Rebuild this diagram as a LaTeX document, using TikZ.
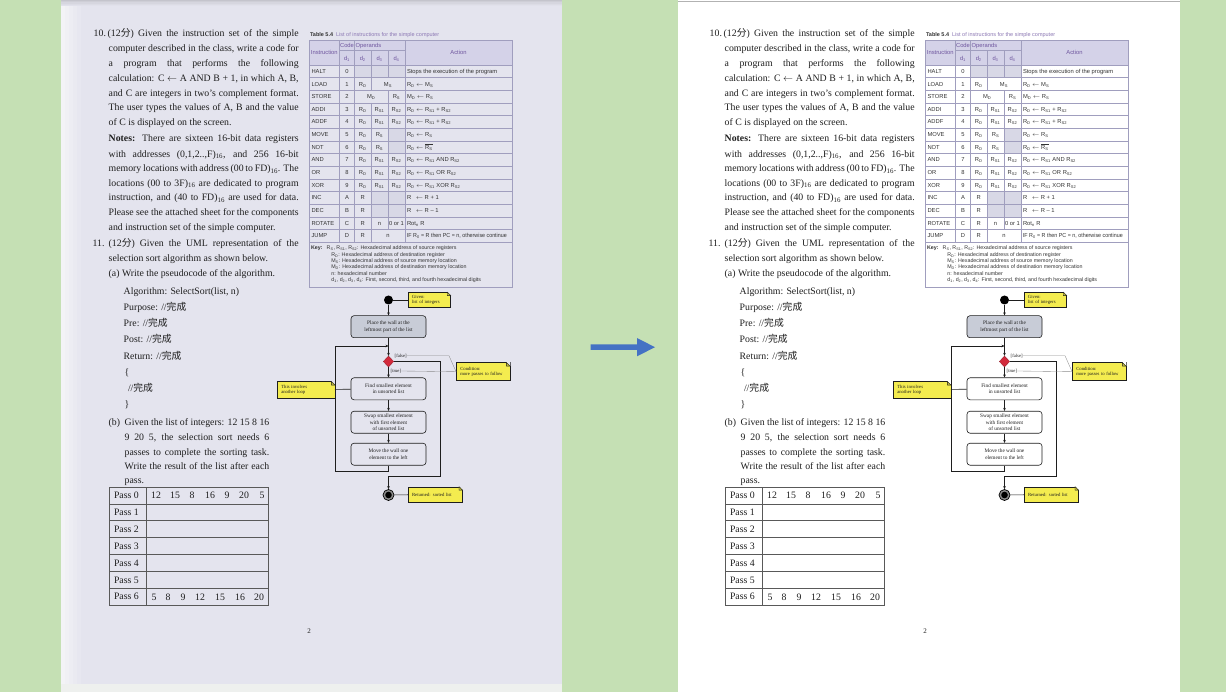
\documentclass[tikz,border=0pt]{standalone}
\usepackage{graphicx}
\usepackage{fontspec}
\setmainfont{Liberation Serif}
\setsansfont{Liberation Sans}
\newfontfamily\cjk{Noto Sans CJK SC}
\usetikzlibrary{arrows.meta,shapes.geometric,calc}
\definecolor{bggreen}{HTML}{C5E0B4}
\definecolor{arrowblue}{HTML}{4472C4}
\definecolor{scanpage}{HTML}{E4E4EE}
\definecolor{scanedge}{HTML}{F3F3F6}
\definecolor{scantop}{HTML}{C4C4CC}
\definecolor{scanbottom}{HTML}{EEF0EE}
\definecolor{tabline}{HTML}{A09EBE}
\definecolor{tabhead}{HTML}{D4D2E8}
\definecolor{tabshade}{HTML}{D8D8E6}
\definecolor{headtxt}{HTML}{6E559E}
\definecolor{captxt}{HTML}{8C78B4}
\definecolor{noteyel}{HTML}{F4EC4F}
\definecolor{boxonefill}{HTML}{C8CCD7}
\definecolor{dmdred}{HTML}{D32A3C}
\definecolor{inkc}{HTML}{1E1E1E}
\definecolor{tabtxt}{HTML}{333333}
\colorlet{pagebg}{white}

\newcommand\bodysize{\fontsize{9.8pt}{15pt}\selectfont}
\newcommand\tabsize{\sffamily\fontsize{5.8pt}{7pt}\selectfont}
\newcommand\capsize{\sffamily\fontsize{5.5pt}{7pt}\selectfont}
\newcommand\keysize{\sffamily\fontsize{5.3pt}{6.5pt}\selectfont}
\newcommand\boxsize{\fontsize{5.3pt}{6.2pt}\selectfont}
\newcommand\notesize{\fontsize{4.7pt}{5.6pt}\selectfont}
\newcommand\sbs[1]{\textsubscript{#1}}
\newcommand\wc{{\cjk 完成}}

\newcounter{ln}
\newcommand\jl[4]{\stepcounter{ln}\node[txt] (ln\arabic{ln}) at (#1,#2) {\makebox[#3pt][s]{#4}};}
\newcommand\pl[3]{\stepcounter{ln}\node[txt] (ln\arabic{ln}) at (#1,#2) {#3};}
\newcommand\tbl[3]{\stepcounter{ln}\node[tt] (ln\arabic{ln}) at (#1,#2) {#3};}
\newcommand\tbc[3]{\stepcounter{ln}\node[tt,anchor=base] (ln\arabic{ln}) at (#1,#2) {#3};}
\newcommand\kyl[3]{\stepcounter{ln}\node[tt,font=\keysize] (ln\arabic{ln}) at (#1,#2) {#3};}
\newcommand\trow[7]{\pgfmathsetmacro\ry{73.4+12.65*#1}%
  \tbl{927.5}{\ry}{#2}\tbc{963}{\ry}{#3}\tbc{978.75}{\ry}{#4}\tbc{995.5}{\ry}{#5}\tbc{1012.5}{\ry}{#6}\tbl{1023}{\ry}{#7}}
\newcommand\notefold[1]{%
  \fill[pagebg] ($(#1.north east)+(-3.6,-0.5)$) -- ($(#1.north east)+(0.5,-0.5)$) -- ($(#1.north east)+(0.5,3.6)$) -- cycle;
  \filldraw[fill=noteyel!80!black, draw=inkc, line width=0.4pt, line join=round] ($(#1.north east)+(-3.6,0)$) -- ($(#1.north east)+(-3.6,3.6)$) -- ($(#1.north east)+(0,3.6)$) -- cycle;}

\newcommand\pagecontent{%
% ---------------- question 10
\pl{709.7}{36.7}{10.}
\jl{723.7}{36.7}{191}{(12{\cjk 分}) Given the instruction set of the simple}
\jl{724.7}{51.7}{190}{computer described in the class, write a code for}
\jl{724.7}{66.7}{190}{a program that performs the following}
\jl{724.7}{81.7}{190}{calculation: C $\leftarrow$ A AND B + 1, in which A, B,}
\jl{724.7}{96.7}{190}{and C are integers in two’s complement format.}
\jl{724.7}{111}{190}{The user types the values of A, B and the value}
\pl{724.7}{125.7}{of C is displayed on the screen.}
\jl{724.7}{141.7}{190}{\textbf{Notes:} There are sixteen 16-bit data registers}
\jl{724.7}{157.2}{190}{with addresses (0,1,2..,F)\sbs{16}, and 256 16-bit}
\jl{724.7}{171.7}{190}{memory locations with address (00 to FD)\sbs{16}. The}
\jl{724.7}{186.1}{190}{locations (00 to 3F)\sbs{16} are dedicated to program}
\jl{724.7}{200.7}{190}{instruction, and (40 to FD)\sbs{16} are used for data.}
\jl{724.7}{215.4}{190}{Please see the attached sheet for the components}
\pl{724.7}{230.7}{and instruction set of the simple computer.}
% ---------------- question 11
\pl{708.7}{246.3}{11.}
\jl{724.7}{246.3}{190}{(12{\cjk 分}) Given the UML representation of the}
\pl{724.7}{261.3}{selection sort algorithm as shown below.}
\pl{724.7}{276.7}{(a) Write the pseudocode of the algorithm.}
\pl{739.7}{294.3}{Algorithm: SelectSort(list, n)}
\pl{739.7}{310.7}{Purpose: //\wc}
\pl{739.7}{326.7}{Pre: //\wc}
\pl{739.7}{342.7}{Post: //\wc}
\pl{739.7}{359.3}{Return: //\wc}
\pl{740.7}{375.5}{\{}
\pl{744}{391.7}{//\wc}
\pl{740.7}{407.3}{\}}
\pl{724.7}{425}{(b)}
\jl{740.7}{425}{144.6}{Given the list of integers: 12 15 8 16}
\jl{740.7}{440}{144.6}{9 20 5, the selection sort needs 6}
\jl{740.7}{455}{144.6}{passes to complete the sorting task.}
\jl{740.7}{469.3}{144.6}{Write the result of the list after each}
\pl{740.7}{483.3}{pass.}
% ---------------- pass table
\draw[passline] (725.7,487) rectangle (884,605);
\foreach \i in {1,...,6} \draw[passline] (725.7,{487+16.857*\i}) -- (884,{487+16.857*\i});
\draw[passline] (762.7,487) -- (762.7,605);
\foreach \i in {0,...,6} \node[txt] (pass\i) at (730,{487+16.857*(\i+0.5)+3.4}) {Pass \i};
\foreach \v/\x [count=\c] in {12/772,15/791,8/808,16/826,9/843,20/860,5/878}
  \node[txt,anchor=base] (pa\c) at (\x,498.8) {\v};
\foreach \v/\x [count=\c] in {5/770,8/784,9/799,12/816,15/836,16/856,20/875}
  \node[txt,anchor=base] (pg\c) at (\x,600) {\v};
\node[txt,anchor=base,font=\fontsize{7pt}{8pt}\selectfont] (pgno) at (925,633.5) {2};
% ---------------- table 5.4
\node[tt,font=\capsize] (cap) at (926,36.2) {\textbf{Table 5.4}\hspace{3pt}{\color{captxt}List of instructions for the simple computer}};
\fill[tabhead] (925,40.5) rectangle (1128,65);
\fill[tabshade] (970.5,65) rectangle (1021,77.65);
\fill[tabshade] (1004,128.25) rectangle (1021,153.55);
\fill[tabshade] (987,191.5) rectangle (1021,216.8);
\draw[tabln] (925,40.5) rectangle (1128,242.1);
\foreach \k in {0,...,13} \draw[tabln] (925,{65+12.65*\k}) -- (1128,{65+12.65*\k});
\draw[tabln] (955.5,50.5) -- (1021,50.5);
\draw[tabln] (955.5,40.5) -- (955.5,242.1);
\draw[tabln] (970.5,40.5) -- (970.5,242.1);
\draw[tabln] (1021,40.5) -- (1021,242.1);
\draw[tabln] (987,50.5) -- (987,90.3);
\draw[tabln] (987,102.95) -- (987,242.1);
\draw[tabln] (1004,50.5) -- (1004,77.65);
\draw[tabln] (1004,90.3) -- (1004,229.45);
\draw[tabln] (925,242.1) rectangle (1128,287);
\node[tt,anchor=center,text=headtxt] (hins) at (940.3,52.8) {Instruction};
\node[tt,anchor=base,text=headtxt] (hcode) at (963,47.6) {Code};
\node[tt,text=headtxt] (hops) at (971.7,47.6) {Operands};
\node[tt,anchor=base,text=headtxt] (hd1) at (963,60.3) {d\sbs{1}};
\node[tt,anchor=base,text=headtxt] (hd2) at (978.75,60.3) {d\sbs{2}};
\node[tt,anchor=base,text=headtxt] (hd3) at (995.5,60.3) {d\sbs{3}};
\node[tt,anchor=base,text=headtxt] (hd4) at (1012.5,60.3) {d\sbs{4}};
\node[tt,anchor=center,text=headtxt] (hact) at (1074.5,52.8) {Action};
\trow{0}{HALT}{0}{}{}{}{Stops the execution of the program}
\trow{1}{LOAD}{1}{R\sbs{D}}{}{}{R\sbs{D} $\leftarrow$ M\sbs{S}}
\tbc{1004}{86.05}{M\sbs{S}}
\trow{2}{STORE}{2}{}{}{R\sbs{S}}{M\sbs{D} $\leftarrow$ R\sbs{S}}
\tbc{987.25}{98.7}{M\sbs{D}}
\trow{3}{ADDI}{3}{R\sbs{D}}{R\sbs{S1}}{R\sbs{S2}}{R\sbs{D} $\leftarrow$ R\sbs{S1} + R\sbs{S2}}
\trow{4}{ADDF}{4}{R\sbs{D}}{R\sbs{S1}}{R\sbs{S2}}{R\sbs{D} $\leftarrow$ R\sbs{S1} + R\sbs{S2}}
\trow{5}{MOVE}{5}{R\sbs{D}}{R\sbs{S}}{}{R\sbs{D} $\leftarrow$ R\sbs{S}}
\trow{6}{NOT}{6}{R\sbs{D}}{R\sbs{S}}{}{R\sbs{D} $\leftarrow$ $\overline{\mbox{R\sbs{S}}}$}
\trow{7}{AND}{7}{R\sbs{D}}{R\sbs{S1}}{R\sbs{S2}}{R\sbs{D} $\leftarrow$ R\sbs{S1} AND R\sbs{S2}}
\trow{8}{OR}{8}{R\sbs{D}}{R\sbs{S1}}{R\sbs{S2}}{R\sbs{D} $\leftarrow$ R\sbs{S1} OR R\sbs{S2}}
\trow{9}{XOR}{9}{R\sbs{D}}{R\sbs{S1}}{R\sbs{S2}}{R\sbs{D} $\leftarrow$ R\sbs{S1} XOR R\sbs{S2}}
\trow{10}{INC}{A}{R}{}{}{R\hspace{3pt} $\leftarrow$ R + 1}
\trow{11}{DEC}{B}{R}{}{}{R\hspace{3pt} $\leftarrow$ R – 1}
\trow{12}{ROTATE}{C}{R}{n}{0 or 1}{Rot\sbs{n} R}
\trow{13}{JUMP}{D}{R}{}{}{\scalebox{0.92}[1]{IF R\sbs{0} = R then PC = n, otherwise continue}}
\tbc{1004}{237.85}{n}
\kyl{927}{249.8}{\textbf{Key:}}
\kyl{942.7}{249.8}{R\sbs{S}, R\sbs{S1}, R\sbs{S2}: Hexadecimal address of source registers}
\kyl{947.3}{256.2}{R\sbs{D}: Hexadecimal address of destination register}
\kyl{947.3}{262.6}{M\sbs{S}: Hexadecimal address of source memory location}
\kyl{947.3}{269}{M\sbs{D}: Hexadecimal address of destination memory location}
\kyl{947.3}{275.4}{n: hexadecimal number}
\kyl{947.3}{281.8}{d\sbs{1}, d\sbs{2}, d\sbs{3}, d\sbs{4}: First, second, third, and fourth hexadecimal digits}
% ---------------- UML activity diagram
\node[startn] (start) at (1004.5,300) {};
\node[umlnote, text width=34.7pt, minimum height=15.4pt] (given) at (1045.3,300) {Given:\\list of integers};
\notefold{given}
\node[fbox, fill=boxonefill] (box1) at (1004.5,326.7) {Place the wall at the\\leftmost part of the list};
\coordinate (J) at (1004.5,346);
\node[diamond, fill=dmdred, draw=dmdred!70!black, line width=0.3pt, minimum width=10.5pt, minimum height=11pt, inner sep=0pt] (dec) at (1004.5,361.5) {};
\node[lbl] (flab) at (1010.5,355.7) {[false]};
\node[lbl] (tlab) at (1006.5,371) {[true]};
\node[umlnote, text width=45.4pt, minimum height=18pt] (cond) at (1099,371.7) {Condition:\\more passes to follow};
\notefold{cond}
\node[fbox] (box2) at (1004.5,388.8) {Find smallest element\\in unsorted list};
\node[fbox] (box3) at (1004.5,422.2) {Swap smallest element\\with first element\\of unsorted list};
\node[fbox] (box4) at (1004.5,454.2) {Move the wall one\\element to the left};
\node[umlnote, text width=49.4pt, minimum height=16pt] (loopn) at (922,389.7) {This involves\\another loop};
\notefold{loopn}
\node[endn] (endc) at (1004.5,495) {};
\fill[black] (endc.center) circle[radius=3.3pt];
\node[umlnote, text width=46.3pt, minimum height=15.6pt] (ret) at (1051.2,494.5) {Returned: sorted list};
\notefold{ret}
\draw[arr] (start) -- (box1);
\draw[flowline] (start) -- (given);
\draw[arr] (box1) -- (dec);
\draw[arr] (dec) -- (box2);
\draw[arr] (box2) -- (box3);
\draw[arr] (box3) -- (box4);
\draw[arr] (box4.south) -- (1004.5,471.7) -- (951.7,471.7) -- (951.7,346) -- (J);
\draw[arr] (dec.east) -- (1056.7,361.5) -- (1056.7,476.7) -- (1004.5,476.7) -- (endc);
\draw[flowline] (endc) -- (ret);
\draw[flowline] (loopn) -- (box2);
\draw[gline] (flab.east) -- (1065,355.7) -- (cond.west);
\draw[gline] (tlab.east) -- (cond.west);
}

\begin{document}
\begin{tikzpicture}[x=1pt,y=-1pt,
  txt/.style={inner sep=0pt, outer sep=0pt, anchor=base west, font=\bodysize, text=inkc},
  tt/.style={inner sep=0pt, outer sep=0pt, anchor=base west, font=\tabsize, text=tabtxt},
  passline/.style={draw=black!65, line width=0.6pt},
  tabln/.style={draw=tabline, line width=0.45pt},
  fbox/.style={draw=inkc, line width=0.6pt, rounded corners=3pt, minimum width=75pt, minimum height=22pt, inner sep=1pt, align=center, font=\boxsize, fill=pagebg, text=inkc},
  umlnote/.style={draw=inkc, line width=0.4pt, fill=noteyel, inner xsep=4pt, inner ysep=1pt, align=left, font=\notesize, text=inkc},
  lbl/.style={inner sep=0pt, anchor=west, font=\notesize, text=inkc},
  startn/.style={circle, fill=black, minimum size=9pt, inner sep=0pt},
  endn/.style={circle, draw=black, line width=0.7pt, fill=black!45, minimum size=11pt, inner sep=0pt},
  flowline/.style={draw=inkc, line width=0.6pt},
  arr/.style={flowline, -{Stealth[length=3pt,width=2.6pt]}},
  gline/.style={draw=black!45, line width=0.35pt}]
\useasboundingbox (0,0) rectangle (1226,692);
\fill[bggreen] (0,0) rectangle (1226,692);
% scanned page (left)
\fill[scanpage] (60.5,0) rectangle (562,684);
\foreach \s [count=\c] in {100,80,60,40,20}
  \fill[scanedge!\s!scanpage] ({60.5+4*(\c-1)},0) rectangle ({60.5+4*\c},684);
\foreach \s [count=\c] in {100,70,45,25,10}
  \fill[scantop!\s!scanpage] (60.5,{1.2*(\c-1)}) rectangle (562,{1.2*\c});
\fill[scanbottom] (60.5,684) rectangle (562,692);
% clean page (right)
\fill[white] (678,0) rectangle (1179.5,692);
\draw[black!30, line width=0.6pt] (678,1) -- (1179.5,1);
% arrow between the pages
\fill[arrowblue] (590.7,344.3) -- (637,344.3) -- (637,338) -- (655,347.2) -- (637,356.3) -- (637,350) -- (590.7,350) -- cycle;
\begin{scope}[xshift=-616pt, name prefix=L-]
  \colorlet{pagebg}{scanpage}
  \pagecontent
\end{scope}
\begin{scope}[name prefix=R-]
  \colorlet{pagebg}{white}
  \pagecontent
\end{scope}
\end{tikzpicture}
\end{document}
